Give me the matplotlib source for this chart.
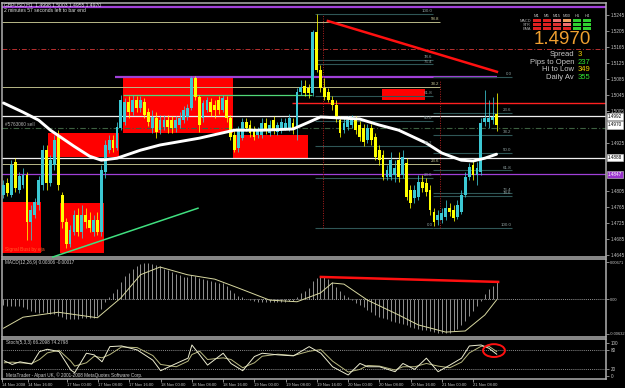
import matplotlib
matplotlib.use("Agg")
import matplotlib.pyplot as plt
from matplotlib.patches import Rectangle, Ellipse
import numpy as np

plt.rcParams['font.family'] = ['Liberation Sans', 'DejaVu Sans']

# ---------------- DATA ----------------
title_main = "GBPUSD,H1  1.4998 1.5003 1.4955 1.4970"
title_timer = "2 minutes 57 seconds left to bar end"

opens = [1.4795, 1.4825, 1.4795, 1.4877, 1.4807, 1.4820, 1.4845, 1.4727, 1.4745, 1.4770,
         1.4820, 1.4907, 1.4825, 1.4870, 1.4945, 1.4795, 1.4727, 1.4672, 1.4702, 1.4745,
         1.4702, 1.4745, 1.4732, 1.4702, 1.4732, 1.4702, 1.4852, 1.4907, 1.4932, 1.4912,
         1.4962, 1.4977, 1.5027, 1.5002, 1.5032, 1.5012, 1.5027, 1.5002, 1.4962, 1.4987,
         1.4957, 1.4965, 1.4982, 1.4982, 1.4962, 1.4970, 1.4982, 1.4990, 1.5012, 1.5088,
         1.5040, 1.4987, 1.5007, 1.5027, 1.5020, 1.5032, 1.5007, 1.5032, 1.4987, 1.4945,
         1.4912, 1.4937, 1.4977, 1.4970, 1.4957, 1.4945, 1.4945, 1.4975, 1.4950, 1.4982,
         1.4952, 1.4957, 1.4962, 1.4962, 1.4975, 1.4962, 1.5052, 1.5068, 1.5062, 1.5050,
         1.5203, 1.5107, 1.5062, 1.5052, 1.5032, 1.5020, 1.4982, 1.4957, 1.4965, 1.4970,
         1.4982, 1.4970, 1.4962, 1.4932, 1.4962, 1.4940, 1.4907, 1.4895, 1.4840, 1.4840,
         1.4845, 1.4882, 1.4845, 1.4875, 1.4807, 1.4787, 1.4790, 1.4827, 1.4825, 1.4807,
         1.4752, 1.4732, 1.4732, 1.4740, 1.4762, 1.4757, 1.4740, 1.4752, 1.4795, 1.4840,
         1.4870, 1.4845, 1.4852, 1.4977, 1.4977, 1.4982, 1.4998]
highs = [1.4832, 1.4837, 1.4882, 1.4887, 1.4852, 1.4862, 1.4852, 1.4770, 1.4787, 1.4842,
         1.4920, 1.4920, 1.4895, 1.4945, 1.4957, 1.4802, 1.4737, 1.4720, 1.4757, 1.4762,
         1.4770, 1.4762, 1.4752, 1.4745, 1.4752, 1.4870, 1.4932, 1.4945, 1.4945, 1.4977,
         1.5045, 1.5037, 1.5042, 1.5045, 1.5042, 1.5042, 1.5037, 1.5012, 1.5007, 1.5002,
         1.4995, 1.4995, 1.4995, 1.4992, 1.4992, 1.5002, 1.5017, 1.5022, 1.5093, 1.5093,
         1.5045, 1.5032, 1.5040, 1.5037, 1.5032, 1.5042, 1.5045, 1.5042, 1.4995, 1.4957,
         1.4967, 1.4987, 1.4987, 1.4982, 1.4967, 1.4965, 1.4987, 1.4987, 1.4982, 1.4992,
         1.4977, 1.4987, 1.4987, 1.4997, 1.4987, 1.5062, 1.5083, 1.5083, 1.5072, 1.5208,
         1.5248, 1.5120, 1.5088, 1.5062, 1.5042, 1.5032, 1.4992, 1.4987, 1.4992, 1.4995,
         1.4992, 1.4980, 1.4972, 1.4972, 1.4972, 1.4950, 1.4920, 1.4907, 1.4870, 1.4902,
         1.4882, 1.4902, 1.4907, 1.4887, 1.4820, 1.4820, 1.4845, 1.4845, 1.4837, 1.4820,
         1.4762, 1.4757, 1.4762, 1.4782, 1.4775, 1.4770, 1.4782, 1.4807, 1.4852, 1.4875,
         1.4882, 1.4877, 1.4987, 1.5057, 1.5032, 1.5040, 1.5050]
lows = [1.4787, 1.4792, 1.4790, 1.4802, 1.4800, 1.4812, 1.4682, 1.4682, 1.4737, 1.4757,
        1.4807, 1.4807, 1.4817, 1.4857, 1.4807, 1.4712, 1.4662, 1.4665, 1.4695, 1.4692,
        1.4687, 1.4712, 1.4702, 1.4692, 1.4695, 1.4692, 1.4837, 1.4900, 1.4902, 1.4907,
        1.4957, 1.4970, 1.4987, 1.4995, 1.5002, 1.5002, 1.4987, 1.4967, 1.4950, 1.4937,
        1.4947, 1.4957, 1.4950, 1.4950, 1.4952, 1.4962, 1.4975, 1.4982, 1.5007, 1.5032,
        1.4952, 1.4977, 1.5002, 1.4992, 1.4987, 1.4997, 1.5002, 1.4977, 1.4932, 1.4902,
        1.4902, 1.4932, 1.4955, 1.4940, 1.4932, 1.4937, 1.4937, 1.4947, 1.4942, 1.4947,
        1.4945, 1.4950, 1.4957, 1.4955, 1.4947, 1.4932, 1.5045, 1.5042, 1.5037, 1.5042,
        1.5103, 1.5052, 1.5032, 1.5027, 1.5007, 1.4977, 1.4940, 1.4950, 1.4957, 1.4962,
        1.4947, 1.4930, 1.4917, 1.4925, 1.4920, 1.4882, 1.4870, 1.4832, 1.4832, 1.4832,
        1.4827, 1.4827, 1.4837, 1.4782, 1.4762, 1.4775, 1.4782, 1.4802, 1.4792, 1.4745,
        1.4717, 1.4720, 1.4725, 1.4732, 1.4742, 1.4730, 1.4735, 1.4747, 1.4790, 1.4832,
        1.4832, 1.4820, 1.4845, 1.4967, 1.4962, 1.4972, 1.4955]
closes = [1.4820, 1.4800, 1.4870, 1.4812, 1.4842, 1.4845, 1.4727, 1.4757, 1.4777, 1.4832,
          1.4907, 1.4825, 1.4882, 1.4932, 1.4820, 1.4727, 1.4672, 1.4707, 1.4745, 1.4702,
          1.4745, 1.4727, 1.4712, 1.4732, 1.4702, 1.4857, 1.4920, 1.4932, 1.4912, 1.4965,
          1.5032, 1.5027, 1.5002, 1.5032, 1.5012, 1.5032, 1.4995, 1.4977, 1.4990, 1.4952,
          1.4982, 1.4982, 1.4965, 1.4962, 1.4982, 1.4987, 1.5007, 1.5012, 1.5088, 1.5040,
          1.4970, 1.5025, 1.5032, 1.5002, 1.5007, 1.5007, 1.5037, 1.4987, 1.4940, 1.4907,
          1.4957, 1.4977, 1.4962, 1.4950, 1.4940, 1.4957, 1.4975, 1.4957, 1.4970, 1.4957,
          1.4970, 1.4977, 1.4975, 1.4987, 1.4957, 1.5052, 1.5065, 1.5050, 1.5050, 1.5203,
          1.5107, 1.5062, 1.5040, 1.5032, 1.5020, 1.4987, 1.4950, 1.4975, 1.4982, 1.4982,
          1.4957, 1.4940, 1.4927, 1.4962, 1.4932, 1.4890, 1.4882, 1.4840, 1.4857, 1.4882,
          1.4862, 1.4840, 1.4890, 1.4790, 1.4775, 1.4807, 1.4827, 1.4812, 1.4802, 1.4757,
          1.4727, 1.4745, 1.4750, 1.4762, 1.4752, 1.4737, 1.4770, 1.4795, 1.4840, 1.4865,
          1.4845, 1.4862, 1.4975, 1.4987, 1.4987, 1.4990, 1.4970]

# moving average (white line), read at selected bars
ma_bars = [0, 5, 9, 12, 15, 18, 22, 25, 29, 35, 40, 50, 59, 66, 74, 78, 81, 87, 91, 96,
           101, 108, 112, 117, 120, 123, 126]
ma_vals = [1.5025, 1.5002, 1.4982, 1.4957, 1.4937, 1.4917, 1.4892, 1.4882, 1.4887, 1.4907,
           1.4920, 1.4937, 1.4957, 1.4957, 1.4960, 1.4977, 1.4990, 1.4987, 1.4985, 1.4970,
           1.4957, 1.4925, 1.4900, 1.4882, 1.4880, 1.4887, 1.4897]

# date axis
date_bars = [-0.6, 6, 16, 24, 32, 40, 48, 56, 64, 72, 80, 88, 96, 104, 112, 120]
date_labels = ["14 Nov 2008", "14 Nov 16:00", "17 Nov 00:00", "17 Nov 08:00", "17 Nov 16:00",
               "18 Nov 00:00", "18 Nov 08:00", "18 Nov 16:00", "19 Nov 00:00", "19 Nov 08:00",
               "19 Nov 16:00", "20 Nov 00:00", "20 Nov 08:00", "20 Nov 16:00", "21 Nov 00:00",
               "21 Nov 08:00"]

price_ticks = [1.4645, 1.4685, 1.4725, 1.4765, 1.4805, 1.4925, 1.5005, 1.5045, 1.5085,
               1.5125, 1.5165, 1.5205, 1.5245]
marker_prices = [1.4992, 1.4970, 1.4888, 1.4847]
marker_labels = ["1.4992", "1.4970", "1.4888", "1.4847"]

# horizontal levels
purple_top = 1.5265
purple_mid = 1.5090
purple_low = 1.4847
tan_levels = [1.5227, 1.5065, 1.4872]
tan_labels = ["58.8", "38.2", "23.6"]
red_dashdot = 1.5160
green_level = 1.5045
red_level = 1.5025
white_levels = [1.4992, 1.4888]
order_level = 1.4962
order_label = "#5763060 sell"

# fibonacci sets
fibA_low, fibA_high = 1.4712, 1.5248
fibA_ratios = [0.0, 0.236, 0.382, 0.5, 0.618, 0.764, 0.786, 1.0]
fibA_labels = ["0.0", "23.6", "38.2", "50.0", "61.8", "76.4", "78.6", "100.0"]
fibB_zero, fibB_hundred = 1.5090, 1.4712
fibB_ratios = [0.0, 0.236, 0.382, 0.5, 0.618, 0.764, 0.786, 1.0, 1.27]
fibB_labels = ["0.0", "23.6", "38.2", "50.0", "61.8", "76.4", "78.6", "100.0", "127"]

# red boxes: (bar_start, bar_end, price_low, price_high)
box_b0 = [-0.4, 14.4, 11.4, 30.5, 58.6, 96.7]
box_b1 = [9.6, 25.7, 29.5, 58.6, 77.8, 107.7]
box_p0 = [1.4650, 1.4650, 1.4890, 1.4950, 1.4887, 1.5032]
box_p1 = [1.4777, 1.4775, 1.4950, 1.5090, 1.4945, 1.5060]

# trend lines
red_trend_bars = [82.9, 126.1]
red_trend_prices = [1.5230, 1.5103]
green_trend_bars = [12.6, 49.7]
green_trend_prices = [1.4640, 1.4762]

# MACD
macd_main = [-0.0011, -0.0012, -0.0012, -0.0013, -0.0013, -0.0014, -0.0018, -0.0022, -0.0024, -0.0025,
             -0.0024, -0.0025, -0.0027, -0.0028, -0.0030, -0.0033, -0.0036, -0.0037, -0.0037, -0.0036,
             -0.0035, -0.0035, -0.0035, -0.0034, -0.0030, -0.0018, -0.0006, 0.0003, 0.0010, 0.0018,
             0.0031, 0.0042, 0.0048, 0.0055, 0.0060, 0.0063, 0.0065, 0.0065, 0.0064, 0.0062,
             0.0059, 0.0055, 0.0052, 0.0049, 0.0046, 0.0043, 0.0040, 0.0040, 0.0044, 0.0041,
             0.0038, 0.0036, 0.0035, 0.0033, 0.0031, 0.0029, 0.0029, 0.0024, 0.0016, 0.0010,
             0.0005, 0.0003, 0.0000, -0.0002, -0.0004, -0.0005, -0.0005, -0.0006, -0.0006, -0.0006,
             -0.0006, -0.0005, -0.0005, -0.0004, -0.0003, 0.0004, 0.0010, 0.0015, 0.0020, 0.0032,
             0.0038, 0.0040, 0.0040, 0.0036, 0.0030, 0.0022, 0.0014, 0.0008, 0.0003, -0.0002,
             -0.0007, -0.0011, -0.0015, -0.0020, -0.0024, -0.0029, -0.0032, -0.0035, -0.0037, -0.0039,
             -0.0042, -0.0044, -0.0046, -0.0048, -0.0051, -0.0053, -0.0054, -0.0056, -0.0057, -0.0058,
             -0.0060, -0.0061, -0.0062, -0.0062, -0.0061, -0.0058, -0.0054, -0.0048, -0.0040, -0.0031,
             -0.0022, -0.0012, -0.0004, 0.0009, 0.0018, 0.0024, 0.00306]
sig_bars = [0, 5, 14, 24, 30, 35, 40, 47, 54, 60, 68, 75, 81, 84, 87, 93, 101, 106, 113, 118, 123, 126]
sig_vals = [-0.0053, -0.0033, -0.0024, -0.0034, 0.0002, 0.0044, 0.0058, 0.0044, 0.0036, 0.0020,
            -0.0002, -0.0005, 0.0011, 0.0029, 0.0027, -0.0002, -0.0029, -0.0047, -0.0060, -0.0058,
            -0.0029, -0.00017]
macd_title = "MACD(12,26,9) 0.00306 -0.00017"
macd_red_bars = [81.1, 126.4]
macd_red_vals = [0.0040, 0.0031]
macd_ticks = [0.00671, 0.0, -0.00632]
macd_tick_labels = ["0.00671", "0.00", "-0.00632"]

# Stochastic
stoch_bars = [0, 2, 4, 7, 9, 11, 14, 17, 18, 21, 23, 25, 27, 30, 34, 38, 40, 44, 47, 48,
              50, 52, 56, 58, 61, 64, 66, 70, 74, 78, 81, 84, 88, 91, 93, 96, 100, 102, 105, 108,
              111, 114, 117, 119, 122, 124, 126]
stoch_k = [46, 35, 43, 36, 74, 81, 74, 18, 10, 69, 64, 43, 89, 91, 79, 48, 16, 38, 54, 94,
           64, 33, 69, 38, 16, 59, 69, 64, 61, 89, 69, 28, 3, 38, 28, 28, 13, 38, 20, 54,
           13, 33, 54, 91, 94, 84, 66]
stoch_d = [40, 42, 40, 38, 50, 70, 78, 45, 30, 40, 60, 55, 65, 88, 86, 62, 35, 28, 45, 65,
           75, 50, 55, 50, 25, 40, 60, 66, 62, 75, 80, 45, 12, 20, 32, 30, 18, 28, 28, 38,
           30, 25, 42, 70, 90, 90, 74]
stoch_title = "Stoch(5,3,3) 66.2098 74.2798"
stoch_ticks = [100, 80, 20, 0]
footer = "MetaTrader - Alpari UK, \u00a9 2001-2008 MetaQuotes Software Corp."

# dashboard
dash_cols = ["M1", "M5", "M15", "M30", "H1", "H4"]
dash_rows = ["MACD", "STR", "EMA"]
dash_colors = [["#e02020", "#e02020", "#f07070", "#f0a060", "#30d030", "#30d030"],
               ["#e02020", "#e02020", "#e03030", "#f07070", "#30d030", "#30d030"],
               ["#e02020", "#e02020", "#e03030", "#e02020", "#30d030", "#30d030"]]
big_price = "1.4970"
info_labels = ["Spread", "Pips to Open", "Hi to Low", "Daily Av"]
info_values = ["3", "237", "349", "355"]
info_colors = ["#f0d000", "#30e030", "#f0d000", "#30e030"]

# ---------------- FIGURE ----------------
W, H = 625, 388
fig = plt.figure(figsize=(W / 100, H / 100), dpi=100, facecolor="black")

def ax_rect(top, bottom, left=2, right=606):
    return [left / W, 1 - bottom / H, (right - left) / W, (bottom - top) / H]

def ftext(px, py, s, **kw):
    fig.text(px / W, 1 - py / H, s, **kw)

ax = fig.add_axes(ax_rect(3, 257))
axm = fig.add_axes(ax_rect(259, 337))
axs = fig.add_axes(ax_rect(339, 379))

X0, X1 = -0.383, 153.97
GRAY = "#c4c4c4"
for a in (ax, axm, axs):
    a.set_facecolor("black")
    a.set_xlim(X0, X1)
    for sp in a.spines.values():
        sp.set_color("#b0b0b0")
        sp.set_linewidth(1.1)
    a.tick_params(axis="x", bottom=False, labelbottom=False)
    a.yaxis.tick_right()
    a.tick_params(axis="y", colors=GRAY, labelsize=3.3, length=2, width=0.5, pad=1.5)

ax.set_ylim(1.4640, 1.5275)
axm.set_ylim(-0.006893, 0.007256)
axs.set_ylim(-9.1, 112.1)

# ----- main panel -----
for b0, b1, p0, p1 in zip(box_b0, box_b1, box_p0, box_p1):
    ax.add_patch(Rectangle((b0, p0), b1 - b0, p1 - p0, facecolor="#ff0000",
                           edgecolor="none", zorder=1))

ax.axhline(purple_top, color="#a040d8", lw=1.6, zorder=2)
ax.hlines(purple_mid, 28.5, 126.1, color="#a040d8", lw=1.6, zorder=2)
ax.axhline(purple_low, color="#a040d8", lw=0.9, zorder=2)
ax.hlines(tan_levels, X0, 111.5, color="#b8b888", lw=0.7, zorder=2)
ax.axhline(red_dashdot, color="#b83030", lw=0.7, dashes=(5, 2, 1, 2), zorder=2)
ax.hlines(green_level, 30.5, 78.8, color="#50d878", lw=0.9, zorder=2)
ax.hlines(red_level, 73.7, X1, color="#ff2020", lw=1.0, zorder=2)
for wl in white_levels:
    ax.axhline(wl, color="#f0f0f0", lw=0.9, zorder=2)
ax.axhline(order_level, color="#3c6040", lw=0.8, dashes=(5, 2, 1, 2), zorder=2)

FIBC = "#2f5656"
FIBT = "#8fa0a0"
for r, lab in zip(fibA_ratios, fibA_labels):
    p = fibA_low + r * (fibA_high - fibA_low)
    ax.hlines(p, 79.6, 109.8, color=FIBC, lw=0.8, zorder=2)
    ax.text(109.6, p + 0.0002, lab, color=FIBT, fontsize=3.2, ha="right", va="bottom", zorder=6)
for r, lab in zip(fibB_ratios, fibB_labels):
    p = fibB_zero - r * (fibB_zero - fibB_hundred)
    ax.hlines(p, 109.8, 130.0, color=FIBC, lw=0.8, zorder=2)
    ax.text(129.8, p + 0.0002, lab, color=FIBT, fontsize=3.2, ha="right", va="bottom", zorder=6)
for p, lab in zip(tan_levels, tan_labels):
    ax.text(111.3, p + 0.0003, lab, color="#c8c898", fontsize=3.2, ha="right", va="bottom", zorder=6)

ax.vlines(81.7, fibA_low, fibA_high, color="#b02020", lw=0.7, linestyles=(0, (1, 1.5)), zorder=2)
ax.vlines(111.5, fibB_hundred, 1.5082, color="#b02020", lw=0.7, linestyles=(0, (1, 1.5)), zorder=2)

# candles
BULL, BEAR = "#3cc8d4", "#ffff00"
xs = np.arange(len(closes))
o, hh, ll, c = map(np.array, (opens, highs, lows, closes))
cols = np.where(c >= o, BULL, BEAR)
ax.vlines(xs, ll, hh, colors=cols, lw=0.55, zorder=3)
body_lo = np.minimum(o, c)
body_h = np.maximum(np.abs(c - o), 0.00008)
ax.bar(xs, body_h, bottom=body_lo, width=0.72, color=cols, linewidth=0, zorder=3)

ax.plot(ma_bars, ma_vals, color="white", lw=2.1, solid_capstyle="round",
        solid_joinstyle="round", zorder=4)
ax.plot(red_trend_bars, red_trend_prices, color="#ff1010", lw=1.8, zorder=5)
ax.plot(green_trend_bars, green_trend_prices, color="#40e080", lw=1.1, zorder=5, clip_on=False)

ax.set_yticks(price_ticks)
ax.set_yticklabels([f"{t:.4f}" for t in price_ticks])
mcols = [("white", "black"), ("white", "black"), ("white", "black"), ("#9932cc", "white")]
for p, lab, (bg, fg) in zip(marker_prices, marker_labels, mcols):
    ax.text(1.003, p, lab, transform=ax.get_yaxis_transform(), fontsize=3.3, color=fg,
            ha="left", va="center", clip_on=False,
            bbox=dict(boxstyle="square,pad=0.25", facecolor=bg, edgecolor="#d0d0d0", lw=0.4))

ax.text(0.5, order_level + 0.0002, order_label, color="#b0b0b0", fontsize=3.4,
        ha="left", va="bottom", zorder=6)
ax.text(0.5, 1.4660, "Signal Bust by eja", color="#ff5a28", fontsize=3.5,
        ha="left", va="center", zorder=6)

ftext(4, 5, title_main, color="#e0e0e0", fontsize=3.6, ha="left", va="center")
ftext(4, 10, title_timer, color="#e0e0e0", fontsize=3.6, ha="left", va="center")

# dashboard
for j, name in enumerate(dash_cols):
    ftext(537 + 10 * j, 16, name, color="#c0c0c0", fontsize=3.0, ha="center", va="center")
for i, rname in enumerate(dash_rows):
    ftext(531, 20.5 + 4 * i, rname, color="#b0b0b0", fontsize=2.8, ha="right", va="center")
    for j in range(len(dash_cols)):
        x0 = 533 + 10 * j
        y0 = 19 + 4 * i
        fig.patches.append(Rectangle((x0 / W, 1 - (y0 + 3) / H), 8 / W, 3 / H,
                                     transform=fig.transFigure, facecolor=dash_colors[i][j],
                                     edgecolor="none", zorder=10))
ftext(591, 40, big_price, color="#f0a030", fontsize=13.5, ha="right", va="center")
for k, (lab, val, vc) in enumerate(zip(info_labels, info_values, info_colors)):
    ftext(574, 55 + 7.4 * k, lab, color="#c8c8c8", fontsize=5.5, ha="right", va="center")
    ftext(578, 55 + 7.4 * k, val, color=vc, fontsize=5.5, ha="left", va="center")

# ----- MACD panel -----
axm.axhline(0, color="#c8c8c8", lw=0.5, ls=(0, (1.5, 1.5)))
axm.vlines(xs, 0, macd_main, colors="#b8b8b8", lw=0.55)
axm.plot(sig_bars, sig_vals, color="#d8d8a0", lw=0.7)
axm.plot(macd_red_bars, macd_red_vals, color="#ff1010", lw=1.8)
axm.set_yticks(macd_ticks)
axm.set_yticklabels(macd_tick_labels)
axm.tick_params(axis="y", labelsize=2.9, pad=1.0)
axm.text(0.5, 0.0066, macd_title, color="#d0d0d0", fontsize=3.3, ha="left", va="center")

# ----- Stochastic panel -----
for lv in (80, 20):
    axs.axhline(lv, color="#b8b8b8", lw=0.5, ls=(0, (1.5, 1.5)))
axs.plot(stoch_bars, stoch_d, color="#b8b880", lw=0.7)
axs.plot(stoch_bars, stoch_k, color="#ececd0", lw=0.7)
axs.add_patch(Ellipse((125.3, 77), 5.6, 39, facecolor="none", edgecolor="#ff1010", lw=1.4,
                      clip_on=False, zorder=6))
axs.set_yticks(stoch_ticks)
axs.set_yticklabels([str(t) for t in stoch_ticks])
axs.text(0.5, 103, stoch_title, color="#d0d0d0", fontsize=3.3, ha="left", va="center")
axs.text(0.5, 2, footer, color="#d0d0d0", fontsize=3.3, ha="left", va="center")

axs.tick_params(axis="x", bottom=True, labelbottom=True, colors=GRAY, labelsize=3.0,
                length=2, width=0.5, pad=1)
axs.set_xticks(date_bars)
axs.set_xticklabels(date_labels, ha="left")

fig.savefig("out.png", dpi=100, facecolor="black")
